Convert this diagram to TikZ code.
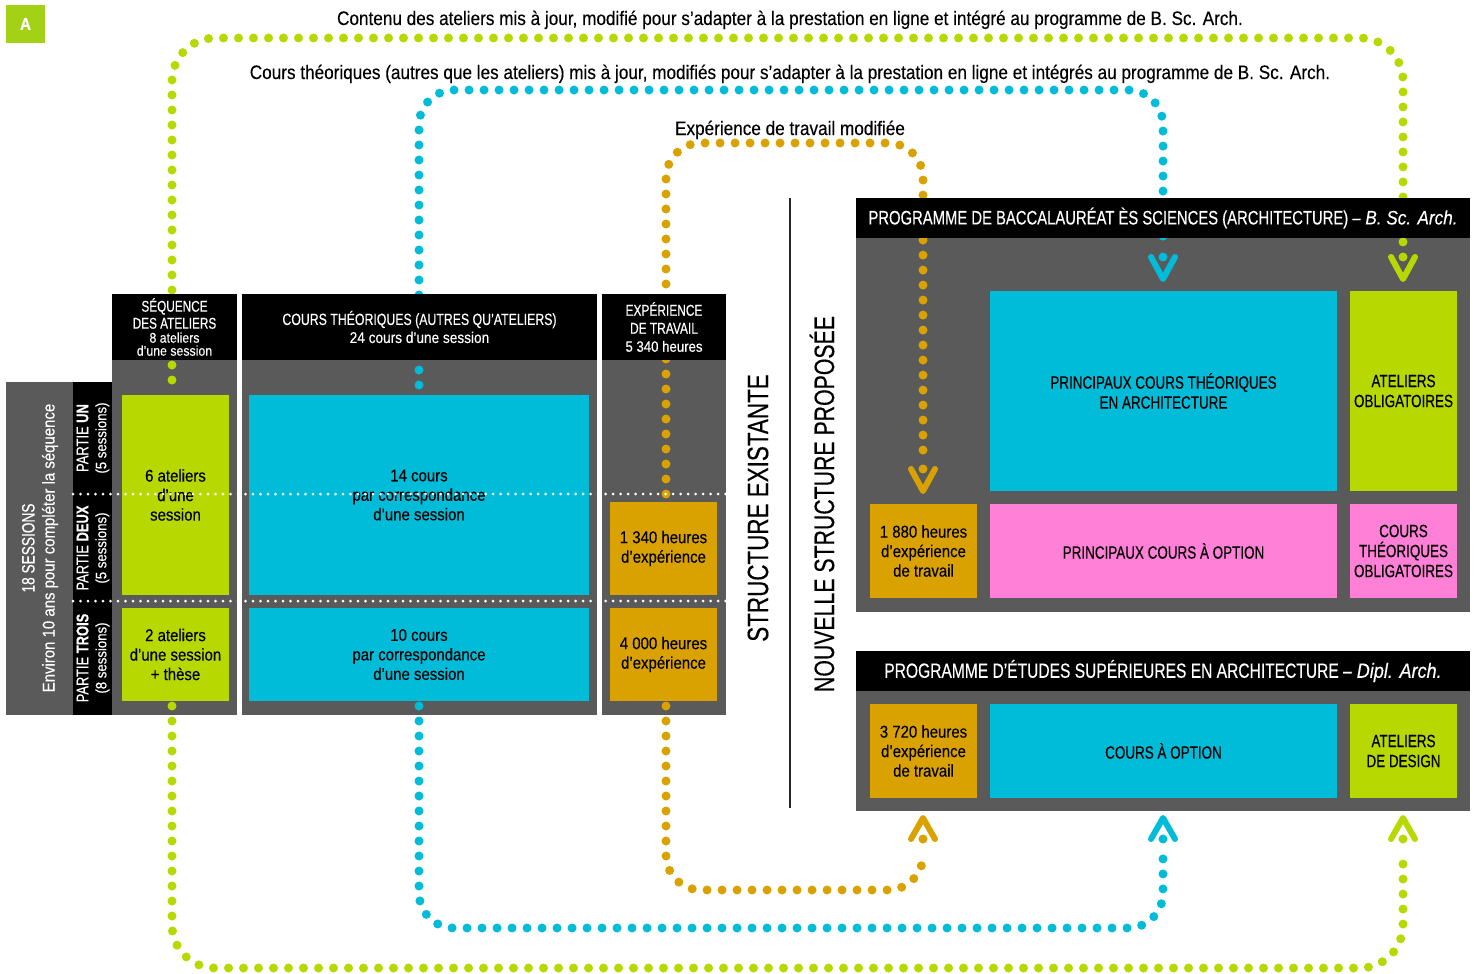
\documentclass[tikz,border=0pt]{standalone}
\usepackage{fontspec}
\setmainfont{Liberation Sans}[FakeStretch=0.88, FakeBold=0.3]
\newfontfamily\capsf{Liberation Sans}[FakeStretch=0.76, FakeBold=0.3]
\definecolor{lime}{HTML}{B7D800}
\definecolor{limeA}{HTML}{A3D116}
\definecolor{cyanb}{HTML}{00BCD9}
\definecolor{gold}{HTML}{D9A200}
\definecolor{pinkb}{HTML}{FF80D6}
\definecolor{panel}{HTML}{5A5A5A}
\tikzset{
  every node/.style={inner sep=0pt, outer sep=0pt},
  bg/.style={fill=panel, draw=none},
  hdr/.style={fill=black, draw=none, text=white, align=center},
  colbox/.style={fill=#1, draw=none, align=center, text=black},
  loopdots/.style={#1, line width=9pt, line cap=round, dash pattern=on 0pt off 15pt},
  wdots/.style={white, line width=3pt, line cap=round, dash pattern=on 0pt off 7.5pt},
  chev/.style={#1, line width=6pt, line cap=round, line join=round},
  lowtxt/.style={font=\fontsize{17}{19.5}\selectfont},
  captxt/.style={font=\capsf\fontsize{17.7}{20}\selectfont},
  toptxt/.style={font=\fontsize{19.5}{22}\selectfont, anchor=base},
}
\newcommand\blk[7]{\node[#6, minimum width={(#4-#2)*1pt}, minimum height={(#5-#3)*1pt}] (#1) at ({(#2+#4)/2},{(#3+#5)/2}) {#7};}
\newcommand\chevdn[4]{\coordinate (#1) at (#2,#3);
  \fill[#4] (#1) circle (4.5pt);
  \draw[chev=#4] (#2-12,#3) -- (#2,#3+22) -- (#2+12,#3);}
\newcommand\chevup[4]{\coordinate (#1) at (#2,#3);
  \fill[#4] (#1) circle (4.5pt);
  \draw[chev=#4] (#2-12,#3) -- (#2,#3-21) -- (#2+12,#3);}
\begin{document}
\begin{tikzpicture}[x=1pt,y=-1pt]
\useasboundingbox (0,0) rectangle (1475,974);
% badge
\blk{badge}{6}{5}{45}{43}{fill=limeA, text=white, font=\bfseries\fontsize{17}{17}\selectfont}{A}
% backgrounds
\blk{leftpanel}{6}{382}{112}{715}{bg}{}
\blk{col1}{112}{294}{237}{715}{bg}{}
\blk{col2}{242}{294}{597}{715}{bg}{}
\blk{col3}{602}{294}{726}{715}{bg}{}
\blk{bscbg}{856}{198}{1470}{612}{bg}{}
\blk{dipbg}{856}{651}{1470}{811}{bg}{}
% loop end points
\coordinate (gS1) at (172,380); \coordinate (gE1) at (1403,242);
\coordinate (bS1) at (419,385); \coordinate (bE1) at (1163,242);
\coordinate (oS1) at (666,494); \coordinate (oE1) at (923,455);
\coordinate (gS2) at (172,706); \coordinate (gE2) at (1403,853);
\coordinate (bS2) at (419,706); \coordinate (bE2) at (1163,853);
\coordinate (oS2) at (666,706); \coordinate (oE2) at (923,853);
% dotted loops
\draw[loopdots=lime, rounded corners=43pt] (gS1) |- (790,38) -| (gE1);
\draw[loopdots=cyanb, rounded corners=35pt] (bS1) |- (790,90) -| (bE1);
\draw[loopdots=gold, rounded corners=35pt] (oS1) |- (790,143) -| (oE1);
\draw[loopdots=lime, rounded corners=43pt] (gS2) |- (790,968) -| (gE2);
\draw[loopdots=cyanb, rounded corners=35pt] (bS2) |- (790,928) -| (bE2);
\draw[loopdots=gold, rounded corners=35pt] (oS2) |- (790,890) -| (oE2);
% headers
\blk{strip}{73}{382}{112}{715}{fill=black}{}
\blk{h1}{112}{294}{237}{360}{hdr, font=\fontsize{15.5}{17}\selectfont}{{\capsf SÉQUENCE}\\{\capsf DES ATELIERS}\\[-3pt]{\fontsize{14}{14}\selectfont 8 ateliers}\\[-4pt]{\fontsize{14}{14}\selectfont d’une session}}
\blk{h2}{242}{294}{597}{360}{hdr, font=\fontsize{15.5}{18}\selectfont}{{\capsf\fontsize{16.2}{18}\selectfont COURS THÉORIQUES (AUTRES QU’ATELIERS)}\\24 cours d’une session}
\blk{h3}{602}{294}{726}{360}{hdr, font=\fontsize{15}{18}\selectfont}{{\capsf\fontsize{15.7}{18}\selectfont EXPÉRIENCE}\\{\capsf\fontsize{15.7}{18}\selectfont DE TRAVAIL}\\5 340 heures}
\blk{bschdr}{856}{198}{1470}{238}{hdr, font=\fontsize{19.5}{22}\selectfont}{{\capsf PROGRAMME DE BACCALAURÉAT ÈS SCIENCES (ARCHITECTURE) –} \textit{B. Sc. Arch.}}
\blk{diphdr}{856}{651}{1470}{691}{hdr, font=\fontsize{20.5}{22}\selectfont}{{\capsf PROGRAMME D’ÉTUDES SUPÉRIEURES EN ARCHITECTURE –} \textit{Dipl. Arch.}}
% left structure boxes
\blk{g1}{122}{395}{229}{595}{colbox=lime, lowtxt}{6 ateliers\\d’une\\session}
\blk{g2}{122}{608}{229}{701}{colbox=lime, lowtxt}{2 ateliers\\d’une session\\+ thèse}
\blk{c1}{249}{395}{589}{595}{colbox=cyanb, lowtxt}{14 cours\\par correspondance\\d’une session}
\blk{c2}{249}{608}{589}{701}{colbox=cyanb, lowtxt}{10 cours\\par correspondance\\d’une session}
\blk{o1}{610}{502}{717}{595}{colbox=gold, lowtxt}{1 340 heures\\d’expérience}
\blk{o2}{610}{608}{717}{701}{colbox=gold, lowtxt}{4 000 heures\\d’expérience}
% right structure boxes
\blk{ro1}{870}{504}{977}{598}{colbox=gold, lowtxt}{1 880 heures\\d’expérience\\de travail}
\blk{rc1}{990}{291}{1337}{491}{colbox=cyanb, captxt}{PRINCIPAUX COURS THÉORIQUES\\EN ARCHITECTURE}
\blk{rg1}{1350}{291}{1457}{491}{colbox=lime, captxt}{ATELIERS\\OBLIGATOIRES}
\blk{rp1}{990}{504}{1337}{598}{colbox=pinkb, captxt}{PRINCIPAUX COURS À OPTION}
\blk{rp2}{1350}{504}{1457}{598}{colbox=pinkb, captxt}{COURS\\THÉORIQUES\\OBLIGATOIRES}
\blk{ro2}{870}{704}{977}{798}{colbox=gold, lowtxt}{3 720 heures\\d’expérience\\de travail}
\blk{rc2}{990}{704}{1337}{798}{colbox=cyanb, captxt}{COURS À OPTION}
\blk{rg2}{1350}{704}{1457}{798}{colbox=lime, captxt}{ATELIERS\\DE DESIGN}
% white separators
\draw[wdots] (73,494) -- (726,494);
\draw[wdots] (73,601) -- (726,601);
% arrow heads
\chevdn{gA1}{1403}{257}{lime}
\chevdn{bA1}{1163}{257}{cyanb}
\chevdn{oA1}{923}{469}{gold}
\chevup{gA2}{1403}{839}{lime}
\chevup{bA2}{1163}{839}{cyanb}
\chevup{oA2}{923}{839}{gold}
% rotated labels
\node[rotate=90, text=white, align=center, font=\fontsize{17}{20}\selectfont] (sess) at (40,548) {{\capsf\fontsize{18}{20}\selectfont 18 SESSIONS}\\Environ 10 ans pour compléter la séquence};
\node[rotate=90, text=white, align=center, font=\fontsize{15}{18}\selectfont] (p1) at (93,438) {{\capsf\fontsize{17}{18}\selectfont PARTIE \textbf{UN}}\\(5 sessions)};
\node[rotate=90, text=white, align=center, font=\fontsize{15}{18}\selectfont] (p2) at (93,548) {{\capsf\fontsize{17}{18}\selectfont PARTIE \textbf{DEUX}}\\(5 sessions)};
\node[rotate=90, text=white, align=center, font=\fontsize{15}{18}\selectfont] (p3) at (93,658) {{\capsf\fontsize{17}{18}\selectfont PARTIE \textbf{TROIS}}\\(8 sessions)};
\node[rotate=90, font=\capsf\fontsize{29.5}{30}\selectfont] (exist) at (758,508) {STRUCTURE EXISTANTE};
\node[rotate=90, font=\capsf\fontsize{28}{30}\selectfont] (newst) at (822,504) {NOUVELLE STRUCTURE PROPOSÉE};
\coordinate (divT) at (790,198); \coordinate (divB) at (790,808);
\draw[line width=2pt, black!85] (divT) -- (divB);
% top captions
\node[toptxt] (cap1) at (790,25) {Contenu des ateliers mis à jour, modifié pour s’adapter à la prestation en ligne et intégré au programme de B. Sc. Arch.};
\node[toptxt] (cap2) at (790,79) {Cours théoriques (autres que les ateliers) mis à jour, modifiés pour s'adapter à la prestation en ligne et intégrés au programme de B. Sc. Arch.};
\node[toptxt] (cap3) at (790,135) {Expérience de travail modifiée};
\end{tikzpicture}
\end{document}
